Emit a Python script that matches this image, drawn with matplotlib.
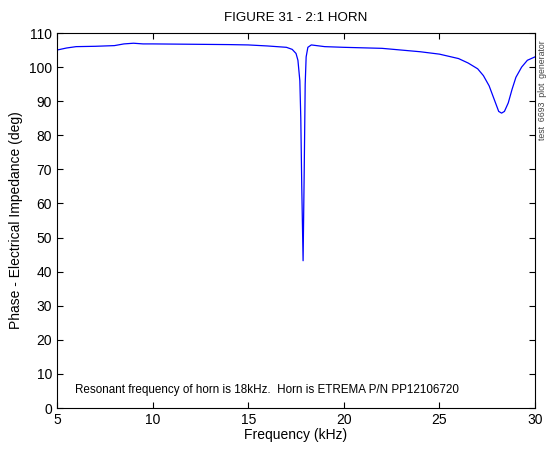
import numpy as np
import matplotlib
matplotlib.use('Agg')
import matplotlib.pyplot as plt

plt.rcParams['font.family'] = ['Liberation Sans', 'DejaVu Sans']

# frequência (kHz) e fase (graus)
freq = [5.0, 5.5, 6.0, 7.0, 8.0, 8.5, 9.0, 9.5, 10.0, 12.0, 14.0, 15.0,
        16.0, 17.0, 17.3, 17.5, 17.6, 17.7, 17.75, 17.8, 17.87, 17.93,
        17.98, 18.03, 18.12, 18.3, 19.0, 20.0, 22.0, 23.0, 24.0, 25.0,
        26.0, 26.5, 27.0, 27.3, 27.6, 27.9, 28.1, 28.25, 28.4, 28.6,
        28.8, 29.0, 29.3, 29.6, 30.0]
fase = [105.0, 105.6, 106.0, 106.1, 106.3, 106.8, 107.0, 106.8, 106.8,
        106.7, 106.6, 106.5, 106.2, 105.8, 105.2, 104.0, 102.0, 96.0,
        85.0, 65.0, 43.2, 70.0, 95.0, 103.0, 105.8, 106.5, 106.0, 105.8,
        105.5, 105.0, 104.5, 103.8, 102.5, 101.2, 99.5, 97.5, 94.5, 90.0,
        87.0, 86.5, 87.0, 89.5, 93.5, 97.0, 100.0, 102.0, 103.0]

fig = plt.figure(figsize=(5.46, 4.49), dpi=100)
ax = fig.add_axes([0.1044, 0.0913, 0.8755, 0.8352])
ax.plot(freq, fase, color='#0000ff', linewidth=0.9)

ax.set_xlim(5, 30)
ax.set_ylim(0, 110)
ax.set_xticks([5, 10, 15, 20, 25, 30])
ax.set_yticks(np.arange(0, 111, 10))
ax.tick_params(direction='in', top=True, right=True, labelsize=10, length=4)
for s in ax.spines.values():
    s.set_linewidth(0.8)

ax.set_title('FIGURE 31 - 2:1 HORN', fontsize=9.6, pad=9)
ax.set_xlabel('Frequency (kHz)', fontsize=10, labelpad=1)
ax.set_ylabel('Phase - Electrical Impedance (deg)', fontsize=10, labelpad=4)
ax.text(5.95, 5.3, 'Resonant frequency of horn is 18kHz.  Horn is ETREMA P/N PP12106720',
        fontsize=8.4, va='center')
fig.text(0.994, 0.8, 'test  6693  plot  generator', rotation=90, fontsize=6.3,
         ha='center', va='center', color='#444444')

fig.savefig('out.png', dpi=100)
